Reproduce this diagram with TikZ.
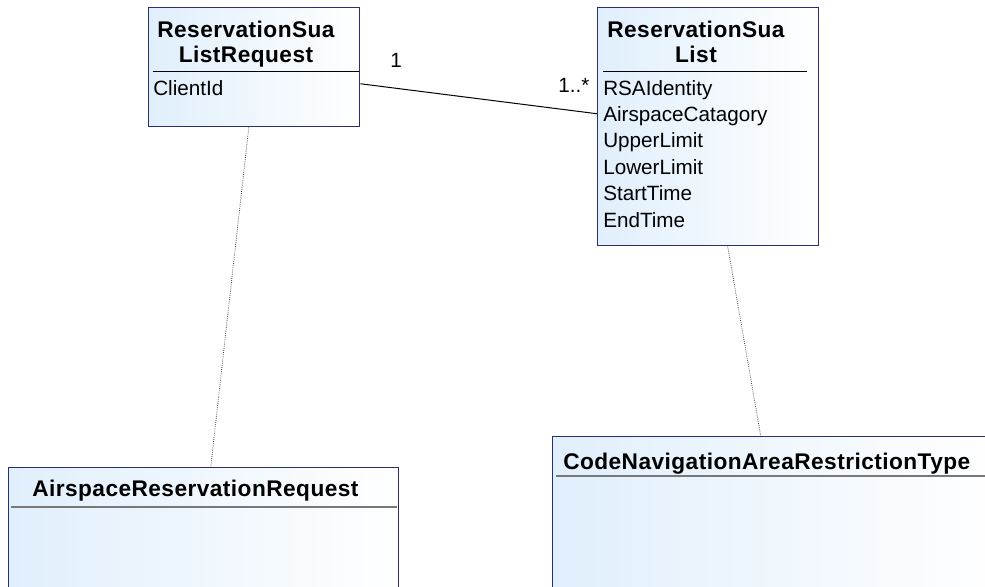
\documentclass[tikz,border=0pt]{standalone}
\usepackage{fontspec}
\setmainfont{Liberation Sans}
\usetikzlibrary{positioning}
\definecolor{umlborder}{RGB}{44,44,112}
\definecolor{umlfill}{RGB}{224,239,252}
\definecolor{umlsep}{RGB}{120,120,120}
\tikzset{
  umlbox/.style={draw=umlborder,line width=1.1pt,left color=umlfill,right color=white,
    rectangle,anchor=north west,inner sep=0pt},
  umltitle/.style={anchor=base,inner sep=0pt,
    font=\fontsize{17}{18}\selectfont\bfseries\addfontfeature{LetterSpace=2}},
  umlattr/.style={anchor=base west,inner sep=0pt,font=\fontsize{15.5}{18}\selectfont},
  mult/.style={anchor=base west,inner sep=0pt,font=\fontsize{15.5}{18}\selectfont},
  assoc/.style={line width=0.75pt},
  dep/.style={densely dotted,line width=0.6pt,black!75}
}

\begin{document}
\begin{tikzpicture}[x=0.75pt,y=-0.75pt]
    \useasboundingbox (0,0) rectangle (985,586);
    \clip (0,0) rectangle (985,586);
    \node[umlbox,minimum width=158.25pt,minimum height=89.25pt] (req) at (148,7) {};
    \node[umlbox,minimum width=165.75pt,minimum height=178.5pt] (rsl) at (597,7) {};
    \node[umlbox,minimum width=292.5pt,minimum height=112.5pt] (arr) at (8,467) {};
    \node[umlbox,minimum width=336pt,minimum height=123pt] (cnar) at (552,436) {};
    \node[umltitle] (reqa) at (246,37) {ReservationSua};
    \node[umltitle] (reqb) at (246,62) {ListRequest};
    \draw[line width=0.75pt] (153,71) -- (359,71);
    \node[umlattr] (clientid) at (153,95) {ClientId};
    \node[umltitle] (rsla) at (696,37) {ReservationSua};
    \node[umltitle] (rslb) at (696,62) {List};
    \draw[line width=0.75pt] (603,71) -- (807,71);
    \node[umlattr] (rsaid) at (603,95) {RSAIdentity};
    \node[umlattr] (aircat) at (603,121.4) {AirspaceCatagory};
    \node[umlattr] (upper) at (603,147.8) {UpperLimit};
    \node[umlattr] (lower) at (603,174.2) {LowerLimit};
    \node[umlattr] (starttime) at (603,200.6) {StartTime};
    \node[umlattr] (endtime) at (603,227) {EndTime};
    \node[umltitle,anchor=base west] (arrt) at (32,496) {AirspaceReservationRequest};
    \draw[umlsep,line width=1.5pt] (11,507) -- (397,507);
    \node[umltitle,anchor=base west] (cnart) at (563,469) {CodeNavigationAreaRestrictionType};
    \draw[umlsep,line width=1.5pt] (556,476) -- (985,476);
    \draw[assoc] ([yshift=-12.4pt]req.east) -- ([yshift=9.75pt]rsl.west);
    \node[mult] (multa) at (390,67) {1};
    \node[mult] (multb) at (558,92) {1..*};
    \draw[dep] ([xshift=-4.1pt]req.south) -- ([xshift=5.25pt]arr.north);
    \draw[dep] ([xshift=14.6pt]rsl.south) -- ([xshift=-12pt]cnar.north);
\end{tikzpicture}
\end{document}
